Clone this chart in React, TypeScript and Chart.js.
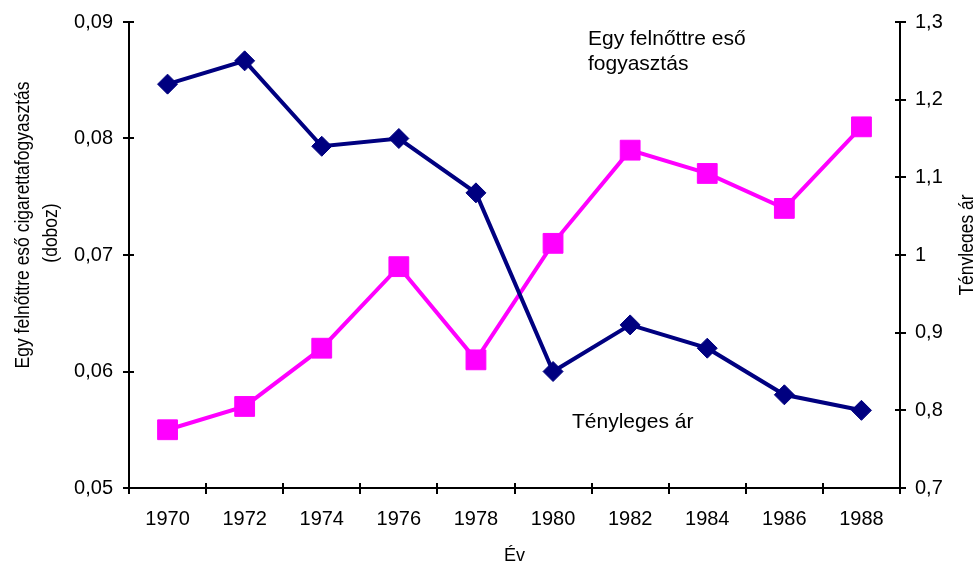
import React, { useEffect, useRef } from 'react';
import { Chart, registerables } from 'chart.js';

Chart.register(...registerables);

const years = ['1970', '1972', '1974', '1976', '1978', '1980', '1982', '1984', '1986', '1988'];
// navy diamonds (right axis)
const consumption = [1.22, 1.25, 1.14, 1.15, 1.08, 0.85, 0.91, 0.88, 0.82, 0.8];
// magenta squares (left axis)
const price = [0.055, 0.057, 0.062, 0.069, 0.061, 0.071, 0.079, 0.077, 0.074, 0.081];

const leftAxisTitle = ['Egy felnőttre eső cigarettafogyasztás', '(doboz)'];
const rightAxisTitle = 'Tényleges ár';
const xAxisTitle = 'Év';
const noteTop = ['Egy felnőttre eső', 'fogyasztás'];
const noteBottom = 'Tényleges ár';

const FONT = '"Liberation Sans", Arial, sans-serif';
const STRETCH = 1.18;

const decorPlugin = {
  id: 'decor',
  afterDraw(chart: any) {
    const ctx = chart.ctx;
    const area = chart.chartArea;
    const xs = chart.scales.x;
    const yl = chart.scales.y;
    const yr = chart.scales.y1;
    ctx.save();
    ctx.strokeStyle = '#000';
    ctx.lineWidth = 2;
    ctx.beginPath();
    const n = years.length;
    for (let i = 0; i <= n; i++) {
      const x = Math.round(xs.left + (i * (xs.right - xs.left)) / n);
      ctx.moveTo(x, area.bottom - 5);
      ctx.lineTo(x, area.bottom + 6);
    }
    yl.ticks.forEach((t: any) => {
      const y = Math.round(yl.getPixelForValue(t.value));
      ctx.moveTo(area.left - 6, y);
      ctx.lineTo(area.left + 5, y);
    });
    yr.ticks.forEach((t: any) => {
      const y = Math.round(yr.getPixelForValue(t.value));
      ctx.moveTo(area.right - 5, y);
      ctx.lineTo(area.right + 6, y);
    });
    ctx.stroke();

    ctx.fillStyle = '#000';
    ctx.font = `21px ${FONT}`;
    ctx.textAlign = 'left';
    ctx.textBaseline = 'alphabetic';
    ctx.fillText(noteTop[0], 588, 45);
    ctx.fillText(noteTop[1], 588, 70);
    ctx.fillText(noteBottom, 572, 428);

    ctx.font = `18px ${FONT}`;
    ctx.textAlign = 'center';
    ctx.fillText(xAxisTitle, (area.left + area.right) / 2, 561);

    const vtext = (txt: string, x: number, y: number) => {
      ctx.save();
      ctx.translate(x, y);
      ctx.rotate(-Math.PI / 2);
      ctx.scale(1, STRETCH);
      ctx.textAlign = 'center';
      ctx.fillText(txt, 0, 0);
      ctx.restore();
    };
    ctx.font = `17.5px ${FONT}`;
    vtext(leftAxisTitle[0], 29, 225);
    vtext(leftAxisTitle[1], 57, 233);
    vtext(rightAxisTitle, 973, 245);

    ctx.restore();
  },
};

const fitY = (w: number) => (s: any) => {
  s.width = w;
  s.paddingTop = 0;
  s.paddingBottom = 0;
};

export default function App() {
  const ref = useRef<HTMLCanvasElement>(null);
  useEffect(() => {
    if (!ref.current) return;
    const chart = new Chart(ref.current, {
      type: 'line',
      data: {
        labels: years,
        datasets: [
          {
            label: 'Egy felnőttre eső fogyasztás',
            data: consumption,
            yAxisID: 'y1',
            borderColor: '#000080',
            backgroundColor: '#000080',
            borderWidth: 4,
            pointStyle: 'rectRot',
            pointRadius: 10,
            pointBorderWidth: 1,
            pointBackgroundColor: '#000080',
            pointBorderColor: '#000080',
            tension: 0,
          },
          {
            label: 'Tényleges ár',
            data: price,
            yAxisID: 'y',
            borderColor: '#FF00FF',
            backgroundColor: '#FF00FF',
            borderWidth: 4,
            pointStyle: 'rect',
            pointRadius: 14,
            pointBorderWidth: 1,
            pointBackgroundColor: '#FF00FF',
            pointBorderColor: '#FF00FF',
            tension: 0,
          },
        ],
      },
      options: {
        responsive: false,
        animation: false,
        events: [],
        layout: { padding: { top: 22, left: 0, right: 0, bottom: 0 } },
        plugins: { legend: { display: false }, tooltip: { enabled: false }, title: { display: false } },
        scales: {
          x: {
            type: 'category',
            offset: true,
            grid: { display: true, drawOnChartArea: false, drawTicks: false },
            border: { display: true, color: '#000', width: 2 },
            ticks: { color: '#000', font: { family: FONT, size: 20 }, padding: 19, maxRotation: 0, autoSkip: false },
            afterFit: (s: any) => {
              s.height = 76;
              s.paddingLeft = 0;
              s.paddingRight = 0;
            },
          },
          y: {
            type: 'linear',
            position: 'left',
            min: 0.05,
            max: 0.09,
            grid: { display: true, drawOnChartArea: false, drawTicks: false },
            border: { display: true, color: '#000', width: 2 },
            ticks: {
              stepSize: 0.01,
              color: '#000',
              font: { family: FONT, size: 20 },
              padding: 16,
              callback: (v: any) => Number(v).toFixed(2).replace('.', ','),
            },
            afterFit: fitY(129),
          },
          y1: {
            type: 'linear',
            position: 'right',
            min: 0.7,
            max: 1.3,
            grid: { display: true, drawOnChartArea: false, drawTicks: false },
            border: { display: true, color: '#000', width: 2 },
            ticks: {
              stepSize: 0.1,
              color: '#000',
              font: { family: FONT, size: 20 },
              padding: 15,
              callback: (v: any) => String(Math.round(Number(v) * 10) / 10).replace('.', ','),
            },
            afterFit: fitY(73),
          },
        },
      },
      plugins: [decorPlugin],
    });
    return () => chart.destroy();
  }, []);
  return (
    <div style={{ position: 'absolute', left: 0, top: 0, width: 973, height: 564, background: '#fff' }}>
      <canvas ref={ref} width={973} height={564} />
    </div>
  );
}
